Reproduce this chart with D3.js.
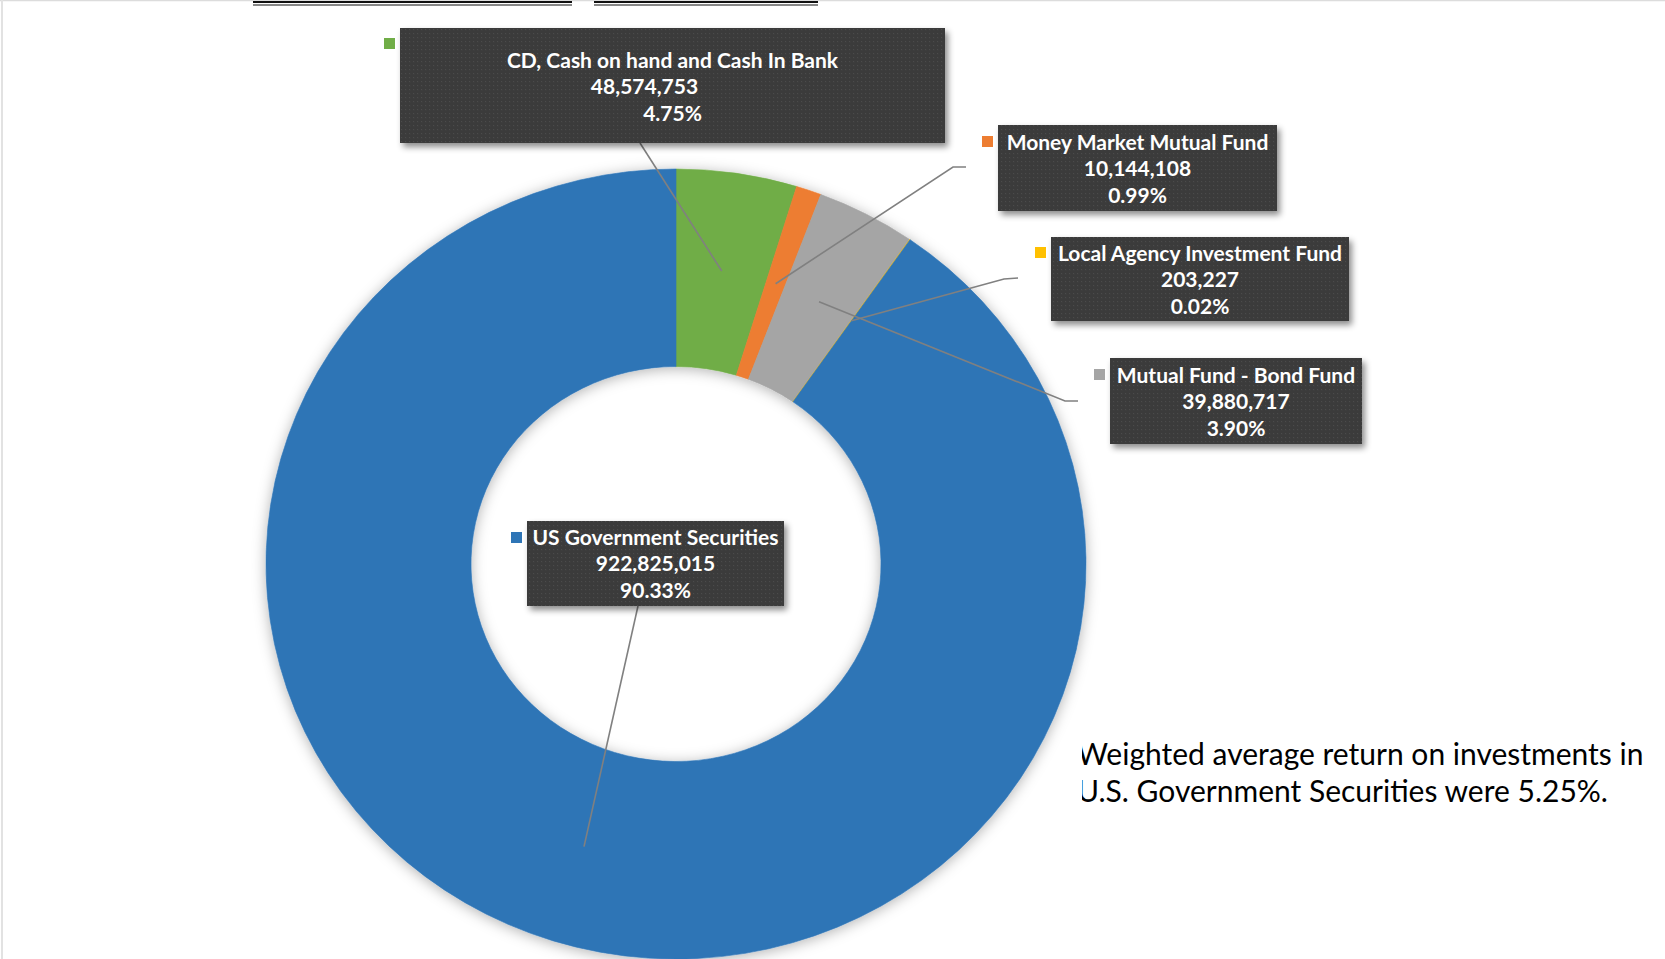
<!DOCTYPE html>
<html>
<head>
<meta charset="utf-8">
<script src="https://cdn.jsdelivr.net/npm/d3@7"></script>
<style>
  html, body { margin: 0; padding: 0; background: #fff; }
  svg { display: block; }
</style>
</head>
<body>
<div id="chart"></div>
<script>
// Portfolio composition
const categories = [
  'CD, Cash on hand and Cash In Bank',
  'Money Market Mutual Fund',
  'Mutual Fund - Bond Fund',
  'Local Agency Investment Fund',
  'US Government Securities'
];
const amounts = [48574753, 10144108, 39880717, 203227, 922825015];
const colors = ['#70AD47', '#ED7D31', '#A5A5A5', '#FFC000', '#2E75B6'];
const noteLines = [
  'Weighted average return on investments in',
  'U.S. Government Securities were 5.25%.'
];

// label box layout (screen px), one per category
const labelBoxes = [
  { x: 400, y: 28, w: 545, h: 115, top: 32, sqY: 10, numDx: -28, elbow: null, anchor: [640, 143] },
  { x: 998, y: 125, w: 279, h: 86, top: 17, sqY: 11, numDx: 0, elbow: [953, 167], anchor: [966, 167] },
  { x: 1110, y: 358, w: 252, h: 86, top: 17, sqY: 11, numDx: 0, elbow: [1065, 401], anchor: [1078, 401] },
  { x: 1051, y: 237, w: 298, h: 84, top: 16, sqY: 10, numDx: 0, elbow: [1004, 279], anchor: [1018, 278] },
  { x: 527, y: 521, w: 257, h: 85, top: 16, sqY: 11, numDx: 0, elbow: null, anchor: [638, 606] }
];

const width = 1665, height = 959;
const cx = 676, cy = 564, rOuter = 395, rInner = 197.5, sx = 1.038;

const svg = d3.select('#chart').append('svg')
  .attr('width', width)
  .attr('height', height);

const defs = svg.append('defs');
const ringShadow = defs.append('filter').attr('id', 'ringShadow')
  .attr('x', '-20%').attr('y', '-20%').attr('width', '140%').attr('height', '140%');
ringShadow.append('feDropShadow')
  .attr('dx', 0).attr('dy', 2).attr('stdDeviation', 7)
  .attr('flood-color', '#000').attr('flood-opacity', 0.3);

const boxShadow = defs.append('filter').attr('id', 'boxShadow')
  .attr('x', '-10%').attr('y', '-20%').attr('width', '120%').attr('height', '150%');
boxShadow.append('feDropShadow')
  .attr('dx', 3).attr('dy', 4).attr('stdDeviation', 3)
  .attr('flood-color', '#000').attr('flood-opacity', 0.45);

const dots = defs.append('pattern').attr('id', 'dots')
  .attr('width', 4).attr('height', 4).attr('patternUnits', 'userSpaceOnUse');
dots.append('rect').attr('width', 4).attr('height', 4).attr('fill', '#3b3b3b');
dots.append('rect').attr('x', 1).attr('y', 1).attr('width', 1.2).attr('height', 1.2).attr('fill', '#4b4b4b');

defs.append('clipPath').attr('id', 'noteClip')
  .append('rect').attr('x', 1082).attr('y', 700).attr('width', 583).attr('height', 140);

// page frame remnants
svg.append('line').attr('x1', 0).attr('x2', width).attr('y1', 0.5).attr('y2', 0.5)
  .attr('stroke', '#dcdcdc').attr('stroke-width', 1.5);
svg.append('line').attr('x1', 2).attr('x2', 2).attr('y1', 0).attr('y2', height)
  .attr('stroke', '#e2e2e2').attr('stroke-width', 2);
[[253, 572], [594, 818]].forEach(([a, b]) => {
  svg.append('line').attr('x1', a).attr('x2', b).attr('y1', 2).attr('y2', 2)
    .attr('stroke', '#111').attr('stroke-width', 2);
  svg.append('line').attr('x1', a).attr('x2', b).attr('y1', 5).attr('y2', 5)
    .attr('stroke', '#111').attr('stroke-width', 1);
});

// donut
const total = d3.sum(amounts);
const pct = d3.format('.2%');
const fmt = d3.format(',');

const pie = d3.pie().sort(null).value(d => d);
const arcs = pie(amounts);
const arc = d3.arc().innerRadius(rInner).outerRadius(rOuter);

const ringWrap = svg.append('g').attr('filter', 'url(#ringShadow)');
const ring = ringWrap.append('g')
  .attr('transform', `translate(${cx},${cy}) scale(${sx},1)`);

ring.selectAll('path.slice')
  .data(arcs)
  .enter()
  .append('path')
  .attr('class', 'slice')
  .attr('d', arc)
  .attr('fill', (d, i) => colors[i])
  .attr('stroke', (d, i) => colors[i])
  .attr('stroke-width', 0.6);

// leader lines, from slice centroid to label
const toScreen = c => [cx + c[0] * sx, cy + c[1]];
const leaders = svg.append('g').attr('class', 'leaders');
arcs.forEach((d, i) => {
  const b = labelBoxes[i];
  const pts = [toScreen(arc.centroid(d))];
  if (b.elbow) pts.push(b.elbow);
  pts.push(b.anchor);
  leaders.append('path')
    .attr('d', d3.line()(pts))
    .attr('fill', 'none')
    .attr('stroke', '#808080')
    .attr('stroke-width', 1.6);
});

// data labels
const labels = svg.append('g').attr('class', 'labels')
  .style('font-family', 'Lato, "Open Sans", sans-serif')
  .style('font-weight', 700)
  .style('font-size', '21px');

arcs.forEach((d, i) => {
  const b = labelBoxes[i];
  const g = labels.append('g');
  g.append('rect')
    .attr('x', b.x).attr('y', b.y)
    .attr('width', b.w).attr('height', b.h)
    .attr('fill', 'url(#dots)')
    .attr('filter', 'url(#boxShadow)');
  g.append('rect')
    .attr('x', b.x - 16).attr('y', b.y + b.sqY)
    .attr('width', 11).attr('height', 11)
    .attr('fill', colors[i]);
  const mid = b.x + b.w / 2;
  const lines = [categories[i], fmt(amounts[i]), pct(amounts[i] / total)];
  lines.forEach((t, j) => {
    g.append('text')
      .attr('x', mid + (j === 1 ? b.numDx : 0))
      .attr('y', b.y + b.top + j * 26.5)
      .attr('dy', '0.36em')
      .attr('text-anchor', 'middle')
      .attr('fill', '#fff')
      .text(t);
  });
});

// note
const note = svg.append('g').attr('clip-path', 'url(#noteClip)');
noteLines.forEach((t, j) => {
  note.append('text')
    .attr('x', 1077)
    .attr('y', 754 + j * 37)
    .attr('dy', '0.36em')
    .style('font-family', 'Lato, "Open Sans", sans-serif')
    .style('font-size', '30px')
    .attr('fill', '#000')
    .text(t);
});
</script>
</body>
</html>
